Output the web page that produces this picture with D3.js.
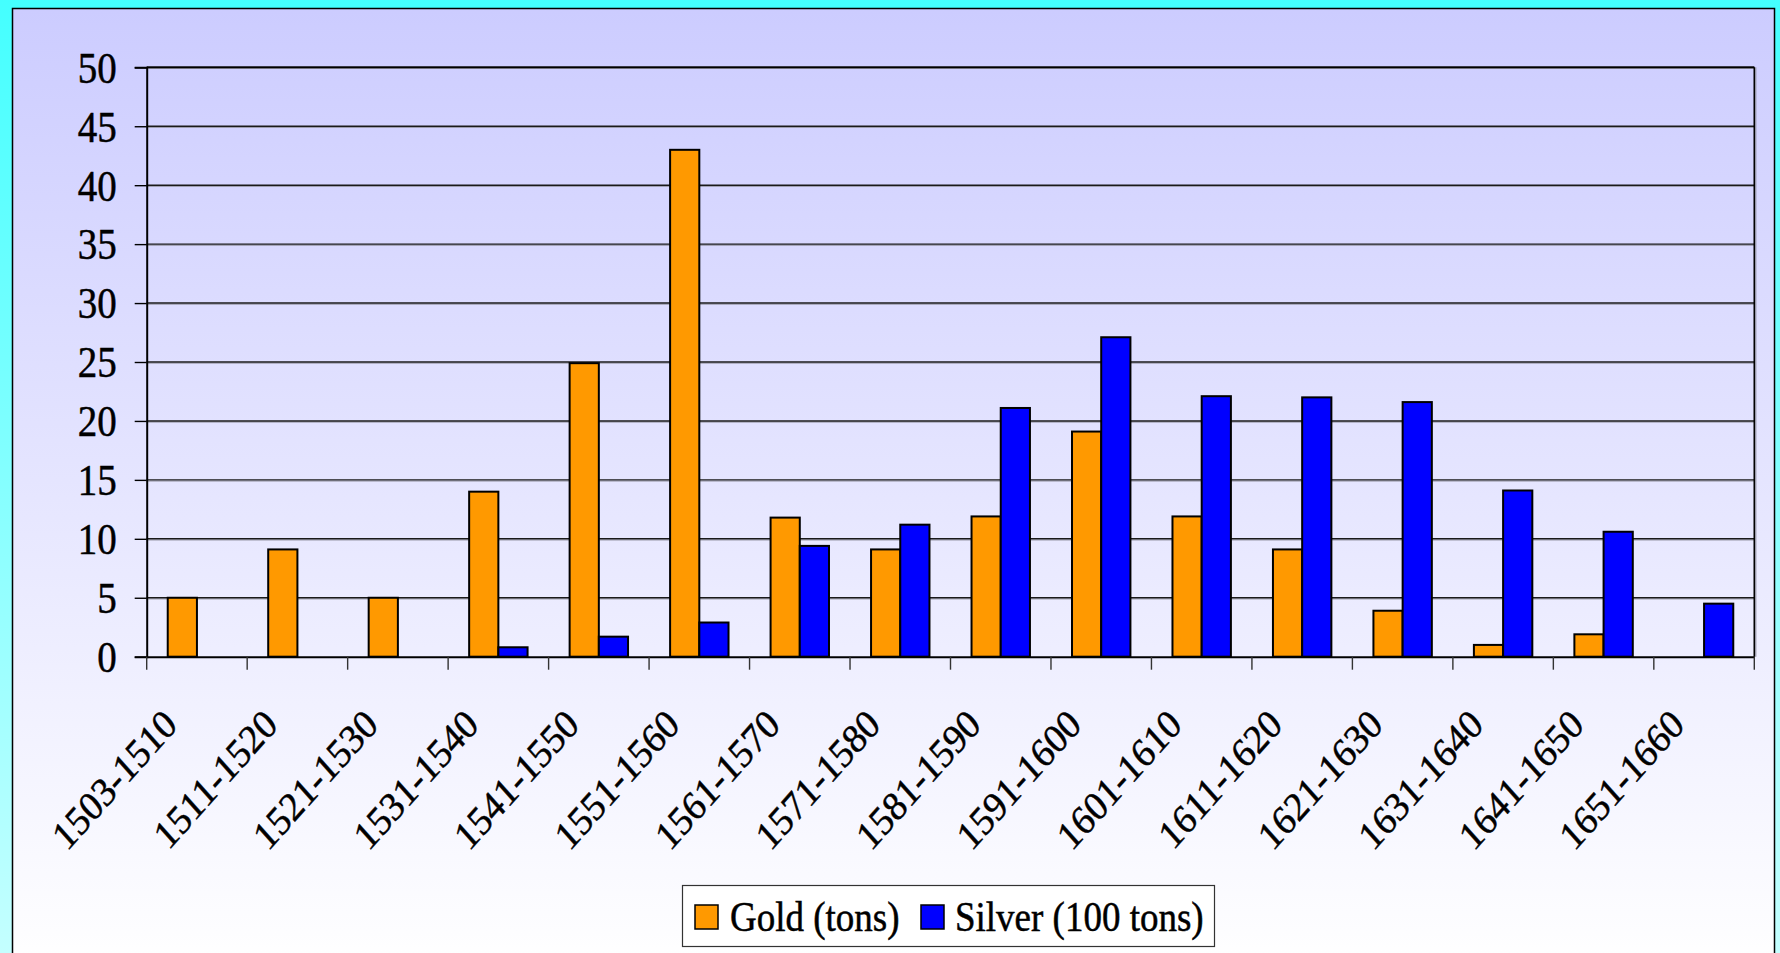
<!DOCTYPE html>
<html>
<head>
<meta charset="utf-8">
<script src="https://cdn.jsdelivr.net/npm/d3@7"></script>
<style>
  html, body { margin: 0; padding: 0; background: #ffffff; }
  svg { display: block; }
  text { font-family: "Liberation Serif", "Times New Roman", serif; fill: #000; stroke: #000; stroke-width: 0.45px; }
</style>
</head>
<body>
<svg id="chart" width="1780" height="953"></svg>
<script>
// Decades of American treasure arrivals
const categories = [
  "1503-1510", "1511-1520", "1521-1530", "1531-1540", "1541-1550", "1551-1560",
  "1561-1570", "1571-1580", "1581-1590", "1591-1600", "1601-1610", "1611-1620",
  "1621-1630", "1631-1640", "1641-1650", "1651-1660"
];
const gold   = [5, 9.1, 5, 14, 24.9, 43, 11.8, 9.1, 11.9, 19.1, 11.9, 9.1, 3.9, 1, 1.9, 0];
const silver = [0, 0, 0, 0.8, 1.7, 2.9, 9.4, 11.2, 21.1, 27.1, 22.1, 22, 21.6, 14.1, 10.6, 4.5];
const seriesNames = ["Gold (tons)", "Silver (100 tons)"];
const seriesColors = ["#FF9900", "#0000FF"];
const yTicks = [0, 5, 10, 15, 20, 25, 30, 35, 40, 45, 50];

const svg = d3.select("#chart");
const W = 1780, H = 953;
const stretch = 1.12; // tall lettering

const defs = svg.append("defs");
const outerGrad = defs.append("linearGradient").attr("id", "outerGrad")
  .attr("x1", 0).attr("y1", 0).attr("x2", 0).attr("y2", 1);
outerGrad.append("stop").attr("offset", "0%").attr("stop-color", "#44FFFF");
outerGrad.append("stop").attr("offset", "100%").attr("stop-color", "#C4FFFF");

const panelGrad = defs.append("linearGradient").attr("id", "panelGrad")
  .attr("x1", 0).attr("y1", 0).attr("x2", 0).attr("y2", 1);
panelGrad.append("stop").attr("offset", "0%").attr("stop-color", "#CCCCFF");
panelGrad.append("stop").attr("offset", "100%").attr("stop-color", "#FFFFFF");

// Backgrounds
svg.append("rect").attr("x", 0).attr("y", 0).attr("width", W).attr("height", H)
  .attr("fill", "url(#outerGrad)");
svg.append("rect").attr("x", 12.5).attr("y", 8.5).attr("width", 1762).attr("height", 960)
  .attr("fill", "url(#panelGrad)").attr("stroke", "#000").attr("stroke-width", 1.5);

// Plot area
const plot = { left: 146.7, right: 1754.3, top: 67.3, bottom: 656.7 };

const y = d3.scaleLinear().domain([0, 50]).range([plot.bottom, plot.top]);
const x0 = d3.scaleBand().domain(categories).range([plot.left, plot.right])
  .paddingInner(0).paddingOuter(0);
const x1 = d3.scaleBand().domain([0, 1]).range([0, x0.bandwidth()])
  .paddingInner(0).paddingOuter(0.72);

// Gridlines with soft shadow
const grid = svg.append("g");
yTicks.filter(t => t > 0).forEach(t => {
  grid.append("line")
    .attr("x1", plot.left).attr("x2", plot.right)
    .attr("y1", y(t) + 1.2).attr("y2", y(t) + 1.2)
    .attr("stroke", "#9a9aaa").attr("stroke-width", 1);
  grid.append("line")
    .attr("x1", plot.left).attr("x2", plot.right)
    .attr("y1", y(t)).attr("y2", y(t))
    .attr("stroke", "#1a1a1a").attr("stroke-width", 1.4);
});

// Right and top border of plot area
svg.append("line").attr("x1", plot.right + 1.5).attr("x2", plot.right + 1.5)
  .attr("y1", plot.top).attr("y2", plot.bottom).attr("stroke", "#9a9aaa").attr("stroke-width", 1.2);
svg.append("line").attr("x1", plot.right).attr("x2", plot.right)
  .attr("y1", plot.top).attr("y2", plot.bottom).attr("stroke", "#000").attr("stroke-width", 1.6);
svg.append("line").attr("x1", plot.left).attr("x2", plot.right)
  .attr("y1", plot.top).attr("y2", plot.top).attr("stroke", "#000").attr("stroke-width", 1.8);

// Bars
const series = [gold, silver];
const barG = svg.append("g");
series.forEach((vals, si) => {
  barG.selectAll(null)
    .data(categories.map((c, i) => ({ c, v: vals[i] })).filter(d => d.v > 0))
    .enter().append("rect")
    .attr("x", d => x0(d.c) + x1(si))
    .attr("y", d => y(d.v))
    .attr("width", x1.bandwidth())
    .attr("height", d => y(0) - y(d.v))
    .attr("fill", seriesColors[si])
    .attr("stroke", "#000")
    .attr("stroke-width", 2);
});

// Y axis
const yAxis = d3.axisLeft(y).tickValues(yTicks).tickSize(12).tickPadding(18)
  .tickFormat(d3.format("d"));
const yG = svg.append("g").attr("transform", `translate(${plot.left},0)`).call(yAxis);
yG.select(".domain").attr("stroke", "#000").attr("stroke-width", 2);
yG.selectAll(".tick line").attr("stroke", "#000").attr("stroke-width", 1.4);
yG.selectAll(".tick text")
  .attr("font-family", "Liberation Serif, serif")
  .attr("font-size", 39)
  .attr("dy", "0.34em")
  .attr("transform", `scale(1,${stretch})`);

// X axis line
const xAxis = d3.axisBottom(x0).tickSize(0).tickFormat("");
const xG = svg.append("g").attr("transform", `translate(0,${plot.bottom})`).call(xAxis);
xG.select(".domain").attr("stroke", "#000").attr("stroke-width", 2);
xG.selectAll(".tick").remove();

// Category boundary ticks
const bounds = categories.map(c => x0(c)).concat([plot.right]);
svg.append("g").selectAll("line").data(bounds).enter().append("line")
  .attr("x1", d => d).attr("x2", d => d)
  .attr("y1", plot.bottom).attr("y2", plot.bottom + 13)
  .attr("stroke", "#333").attr("stroke-width", 1.4);

// Rotated category labels
svg.append("g").selectAll("text").data(categories).enter().append("text")
  .attr("transform", d => `translate(${x0(d) + x0.bandwidth() / 2 - 18},${plot.bottom + 70}) scale(1,${stretch}) rotate(-45)`)
  .attr("text-anchor", "end")
  .attr("font-size", 36.5)
  .text(d => d);

// Legend
const lg = svg.append("g");
lg.append("rect").attr("x", 682.5).attr("y", 885.5).attr("width", 532).attr("height", 61)
  .attr("fill", "#fff").attr("stroke", "#333").attr("stroke-width", 1.2);
const legendItems = [
  { sx: 695, tx: 730 },
  { sx: 921, tx: 955 }
];
seriesNames.forEach((name, i) => {
  lg.append("rect").attr("x", legendItems[i].sx).attr("y", 905).attr("width", 23).attr("height", 24)
    .attr("fill", seriesColors[i]).attr("stroke", "#000").attr("stroke-width", 1.5);
  lg.append("text")
    .attr("transform", `translate(${legendItems[i].tx},931) scale(1,${stretch})`)
    .attr("font-size", 37).text(name);
});
</script>
</body>
</html>
